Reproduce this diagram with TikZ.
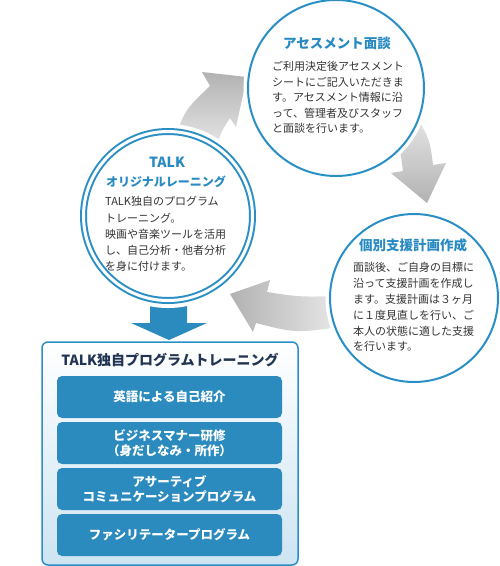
\documentclass[tikz,border=0pt]{standalone}
\usepackage{fontspec}
\setmainfont{Noto Sans CJK JP}
\usetikzlibrary{positioning,calc}
\definecolor{ringBlue}{RGB}{42,143,197}
\definecolor{titleBlue}{RGB}{40,138,194}
\definecolor{itemBlue}{RGB}{43,139,190}
\definecolor{navyText}{RGB}{33,52,82}
\definecolor{bodyText}{RGB}{51,51,51}
\definecolor{arrowDark}{RGB}{178,178,178}
\definecolor{arrowLight}{RGB}{232,232,232}
\definecolor{boxFade}{RGB}{205,228,242}

\tikzset{
  stagecircle/.style={circle, draw=ringBlue, line width=2pt, fill=white, inner sep=0pt,
    preaction={draw=white, line width=9pt}},
  stagetitle/.style={text=titleBlue, inner sep=0pt, font=\fontsize{13.5}{16}\selectfont\bfseries},
  stagebody/.style={text=bodyText, align=left, anchor=north west, inner sep=0pt,
    font=\fontsize{11}{15.5}\selectfont},
  itembox/.style={rounded corners=5pt, fill=itemBlue, text=white, minimum width=225pt,
    minimum height=42pt, align=center, font=\fontsize{12.5}{15}\selectfont\bfseries},
}

\begin{document}
\begin{tikzpicture}[x=1pt, y=-1pt]
    \useasboundingbox (0,0) rectangle (500,566);
    % gray cycle arrows (behind the circles)
    \shade[top color=arrowDark, bottom color=arrowLight]
      (175,138) .. controls (185,110) .. (210,86) -- (202,72) -- (247,77)
      -- (236,127) -- (230,118) .. controls (222,130) .. (215,150) -- cycle;
    \shade[top color=arrowLight, bottom color=arrowDark]
      (388,128) .. controls (400,148) .. (403,171) -- (391,173) -- (427,203)
      -- (446,163) -- (433,165) .. controls (430,140) .. (414,112) -- cycle;
    \shade[left color=arrowDark, right color=arrowLight]
      (340,296) .. controls (300,297) .. (267,292) -- (270,280) -- (230,294)
      -- (253,332) -- (256,323) .. controls (295,333) .. (340,327) -- cycle;
    % blue arrow down to the program box
    \fill[itemBlue] (150,298) -- (187,298) -- (187,323) -- (207,323) -- (169,340)
      -- (131,323) -- (150,323) -- cycle;

    % the three stages
    \node[stagecircle, minimum size=176pt] (assess) at (336,88) {};
    \node[stagecircle, minimum size=169pt, line width=2pt, double=white, double distance=3pt,
      preaction={draw=white, line width=15pt}] (talk) at (168,216) {};
    \node[stagecircle, minimum size=168pt] (plan) at (414,298) {};

    \node[stagetitle] (assesstitle) at (337,43) {アセスメント面談};
    \node[stagebody] (assessbody) at (272,61.5)
      {ご利用決定後アセスメント\\シートにご記入いただきま\\す。アセスメント情報に沿\\って、管理者及びスタッフ\\と面談を行います。};

    \node[stagetitle, font=\fontsize{14}{16}\selectfont\bfseries] (talktitle) at (167,162) {TALK};
    \node[stagetitle, font=\fontsize{12}{14}\selectfont\bfseries] (talksub) at (166,182) {オリジナルレーニング};
    \node[stagebody, font=\fontsize{11}{16.25}\selectfont] (talkbody) at (105,196.5)
      {TALK独自のプログラム\\トレーニング。\\映画や音楽ツールを活用\\し、自己分析・他者分析\\を身に付けます。};

    \node[stagetitle] (plantitle) at (413,245) {個別支援計画作成};
    \node[stagebody, font=\fontsize{11}{15.8}\selectfont] (planbody) at (353,262.5)
      {面談後、ご自身の目標に\\沿って支援計画を作成し\\ます。支援計画は３ヶ月\\に１度見直しを行い、ご\\本人の状態に適した支援\\を行います。};

    % program box
    \node[draw=ringBlue, line width=1.5pt, rounded corners=6pt, top color=white, middle color=white,
      bottom color=boxFade, minimum width=256pt, minimum height=223pt] (program) at (170,453.5) {};
    \node[text=navyText, font=\fontsize{14}{16}\selectfont\bfseries] (programtitle) at (170,360)
      {TALK独自プログラムトレーニング};
    \foreach \i/\txt in {1/{英語による自己紹介}, 2/{ビジネスマナー研修\\（身だしなみ・所作）},
        3/{アサーティブ\\コミュニケーションプログラム}, 4/{ファシリテータープログラム}} {
      \node[itembox] (item\i) at (169.5,{397+46*(\i-1)}) {\txt};
    }
\end{tikzpicture}
\end{document}
